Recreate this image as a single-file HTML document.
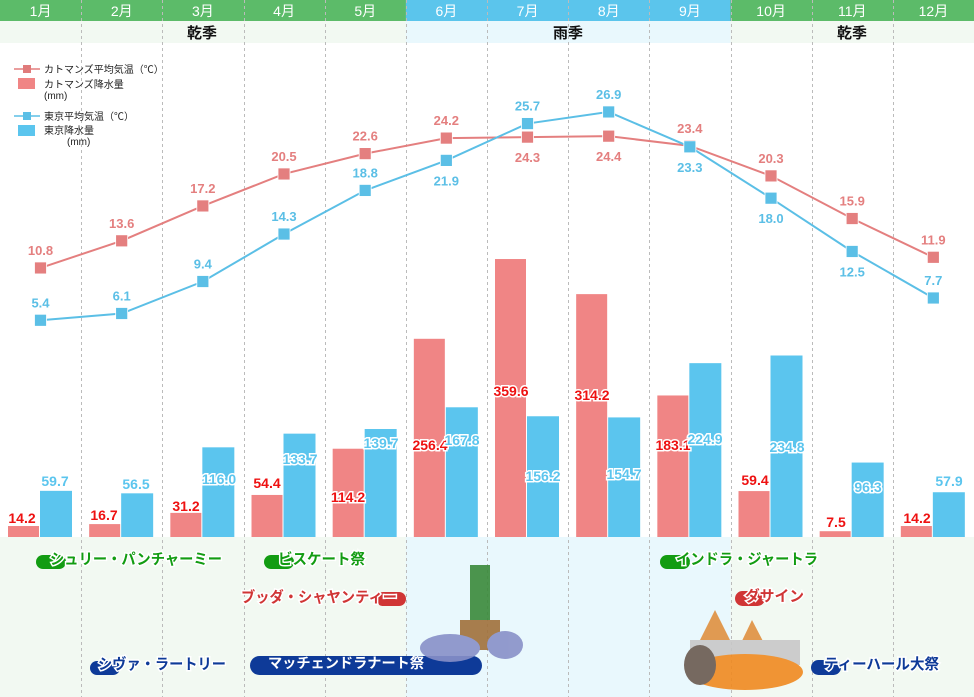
<!DOCTYPE html>
<html><head><meta charset="utf-8"><style>
html,body{margin:0;padding:0;background:#fff;}
body{width:974px;height:697px;overflow:hidden;position:relative;font-family:"Liberation Sans","Noto Sans CJK JP",sans-serif;}
svg{position:absolute;left:0;top:0;}
</style></head><body>
<svg id="s" width="974" height="697" xmlns="http://www.w3.org/2000/svg" font-family="Liberation Sans, Noto Sans CJK JP, sans-serif"></svg>
<script>
const S=document.getElementById('s');
let h='';
const W=974/12;
for(let i=0;i<12;i++){
  const x=i*W, rainy=(i>=5&&i<=8);
  h+=`<rect x="${x}" y="0" width="${W+1}" height="21" fill="${rainy?'#5bc5ec':'#5cbb69'}"/>`;
  h+=`<rect x="${x}" y="21" width="${W+1}" height="22" fill="${rainy?'#e9f8fd':'#f2f9f2'}"/>`;
  h+=`<rect x="${x}" y="537" width="${W+1}" height="160" fill="${rainy?'#e9f8fd':'#f2f9f2'}"/>`;
  h+=`<text x="${x+W/2}" y="16" fill="#fff" font-size="14" text-anchor="middle">${i+1}月</text>`;
}
for(let i=1;i<12;i++){const x=Math.round(i*W)+0.5;h+=`<line x1="${x}" y1="0" x2="${x}" y2="697" stroke="#bbb" stroke-dasharray="3,3"/>`;}
h+=`<text x="202" y="38" font-size="15" font-weight="bold" text-anchor="middle" fill="#111">乾季</text>`;
h+=`<text x="568" y="38" font-size="15" font-weight="bold" text-anchor="middle" fill="#111">雨季</text>`;
h+=`<text x="852" y="38" font-size="15" font-weight="bold" text-anchor="middle" fill="#111">乾季</text>`;
h+=`<line x1="14" y1="69" x2="40" y2="69" stroke="#e37f7f" stroke-width="1.5"/><rect x="23" y="65" width="8" height="8" fill="#e07b7b"/>`;
h+=`<text x="44" y="73" font-size="10" fill="#222">カトマンズ平均気温（℃）</text>`;
h+=`<rect x="18" y="78" width="17" height="11" fill="#f08585"/>`;
h+=`<text x="44" y="88" font-size="10" fill="#222">カトマンズ降水量</text><text x="44" y="99" font-size="10" fill="#222">(mm)</text>`;
h+=`<line x1="14" y1="116" x2="40" y2="116" stroke="#5bbfe6" stroke-width="1.5"/><rect x="23" y="112" width="8" height="8" fill="#5bbfe6"/>`;
h+=`<text x="44" y="120" font-size="10" fill="#222">東京平均気温（℃）</text>`;
h+=`<rect x="18" y="125" width="17" height="11" fill="#5bc5ee"/>`;
h+=`<text x="44" y="134" font-size="10" fill="#222">東京降水量</text><text x="67" y="145" font-size="10" fill="#222">(mm)</text>`;
const kr=[14.2,16.7,31.2,54.4,114.2,256.4,359.6,314.2,183.1,59.4,7.5,14.2];
const tr=[59.7,56.5,116.0,133.7,139.7,167.8,156.2,154.7,224.9,234.8,96.3,57.9];
const kl=[[22,518],[104,515],[186,506],[267,483],[348,497],[430,445],[511,391],[592,395],[673,445],[755,480],[836,522],[917,518]];
const tl=[[55,481],[136,484],[219,479],[300,459],[381,443],[462,440],[543,476],[624,474],[705,439],[787,447],[868,487],[949,481]];
let lab='';
for(let i=0;i<12;i++){
  const x=i*W;
  const hk=kr[i]*0.773, ht=tr[i]*0.773;
  h+=`<rect x="${x+8}" y="${537-hk}" width="31" height="${hk}" fill="#f08585"/>`;
  h+=`<rect x="${x+40}" y="${537-ht}" width="32" height="${ht}" fill="#5bc5ee"/>`;
  lab+=`<text x="${kl[i][0]}" y="${kl[i][1]+5}" font-size="14" font-weight="bold" text-anchor="middle" fill="#ee1111" stroke="#fff" stroke-width="3" paint-order="stroke">${kr[i].toFixed(1)}</text>`;
  lab+=`<text x="${tl[i][0]}" y="${tl[i][1]+5}" font-size="14" font-weight="bold" text-anchor="middle" fill="#5bc5ee" stroke="#fff" stroke-width="3" paint-order="stroke">${tr[i].toFixed(1)}</text>`;
}
h+=lab;
const kt=[10.8,13.6,17.2,20.5,22.6,24.2,24.3,24.4,23.4,20.3,15.9,11.9];
const tt=[5.4,6.1,9.4,14.3,18.8,21.9,25.7,26.9,23.3,18.0,12.5,7.7];
const Y=t=>372.6-9.69*t;
const kBelow=[6,7], tBelow=[5,8,9,10];
function series(arr,col,below){
  let p=arr.map((t,i)=>`${i*W+40.5},${Y(t)}`).join(' ');
  let s=`<polyline points="${p}" fill="none" stroke="${col}" stroke-width="2"/>`;
  arr.forEach((t,i)=>{const x=i*W+40.5,y=Y(t);
    s+=`<rect x="${x-6}" y="${y-6}" width="12" height="12" fill="${col}" stroke="#fff" stroke-width="0.8"/>`;
    const ly=below.includes(i)?y+25:y-13;
    s+=`<text x="${x}" y="${ly}" font-size="13" font-weight="bold" text-anchor="middle" fill="${col}" stroke="#fff" stroke-width="2.5" paint-order="stroke">${t.toFixed(1)}</text>`;});
  return s;
}
h+=series(kt,'#e47f7f',kBelow);
h+=series(tt,'#5bbfe6',tBelow);
function pill(x,y,w,hh,c){return `<rect x="${x}" y="${y}" width="${w}" height="${hh}" rx="${hh/2}" fill="${c}"/>`;}
function ft(x,y,t,c,len){return `<text x="${x}" y="${y}" font-size="15" font-weight="bold" fill="${c}" stroke="#fff" stroke-width="3" paint-order="stroke" textLength="${len}" lengthAdjust="spacingAndGlyphs">${t}</text>`;}
const G='#129c12',R='#d03535',B='#0e3a98';
h+=pill(36,555,30,14,G)+ft(50,564,'シュリー・パンチャーミー',G,172);
h+=pill(264,555,30,14,G)+ft(278,564,'ビスケート祭',G,87);
h+=pill(376,592,30,14,R)+ft(241,602,'ブッダ・シャヤンティー',R,156);
h+=pill(90,661,30,14,B)+ft(98,669,'シヴァ・ラートリー',B,128);
h+=pill(250,656,232,19,B)+`<text x="268" y="668" font-size="14" font-weight="bold" fill="#fff" textLength="156" lengthAdjust="spacingAndGlyphs">マッチェンドラナート祭</text>`;
h+=pill(660,555,30,14,G)+ft(676,564,'インドラ・ジャートラ',G,142);
h+=pill(735,591,30,15,R)+ft(745,601,'ダサイン',R,59);
h+=pill(811,660,30,15,B)+ft(824,669,'ティーハール大祭',B,115);
h+=`<g opacity="0.9"><rect x="470" y="565" width="20" height="60" fill="#3a8a3a"/><rect x="460" y="620" width="40" height="30" fill="#a0703a"/><ellipse cx="450" cy="648" rx="30" ry="14" fill="#8890c8"/><ellipse cx="505" cy="645" rx="18" ry="14" fill="#8890c8"/></g>`;
h+=`<g opacity="0.9"><polygon points="715,610 700,640 730,640" fill="#e09040"/><polygon points="752,620 740,645 765,645" fill="#e09040"/><rect x="690" y="640" width="110" height="25" fill="#c8c8c8"/><ellipse cx="745" cy="672" rx="58" ry="18" fill="#f08a20"/><ellipse cx="700" cy="665" rx="16" ry="20" fill="#6a5a50"/></g>`;
S.innerHTML=h;
</script>
</body></html>
